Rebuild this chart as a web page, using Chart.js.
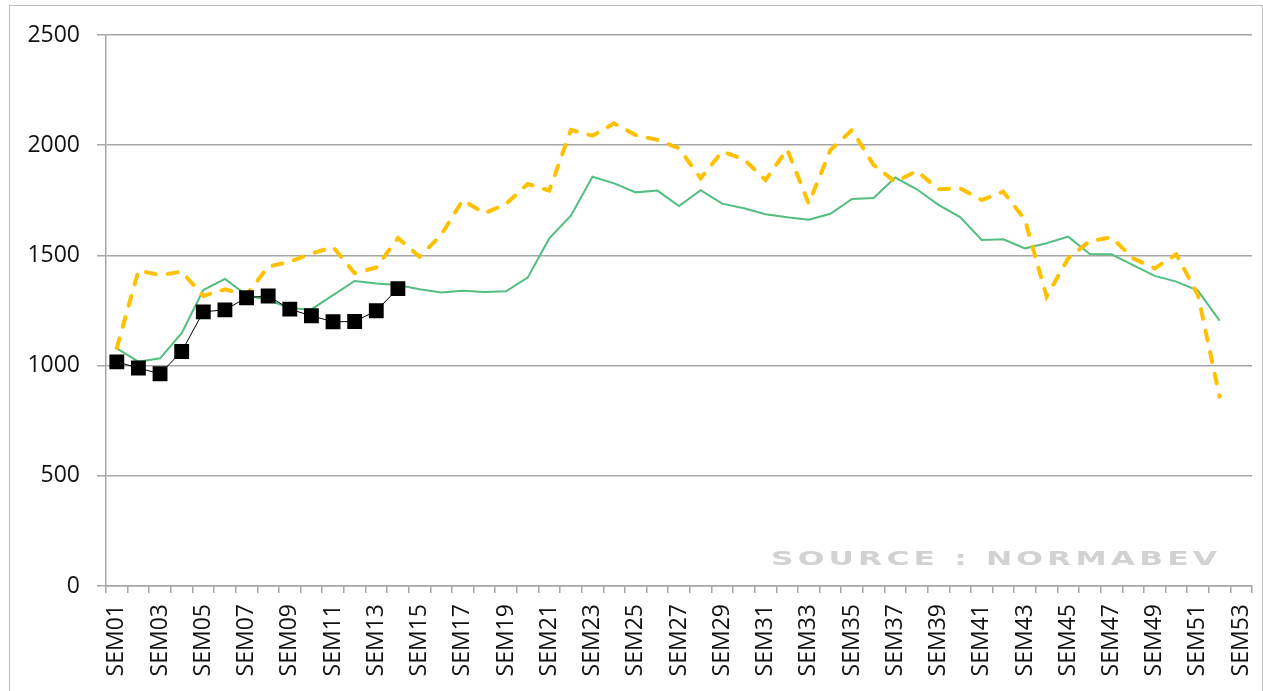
<!DOCTYPE html>
<html>
<head>
<meta charset="utf-8">
<script src="https://cdn.jsdelivr.net/npm/chart.js@4/dist/chart.umd.min.js"></script>
<style>
  html, body { margin: 0; padding: 0; background: #ffffff; }
  #wrap { position: relative; width: 1263px; height: 691px; overflow: hidden; }
  #frame { position: absolute; left: 9px; top: 5px; width: 1252px; height: 700px; border: 1.5px solid #bdbdbd; pointer-events: none; }
</style>
</head>
<body>
<div id="wrap">
  <canvas id="c" width="1263" height="691"></canvas>
  <div id="frame"></div>
</div>
<script>
const weeks = ['SEM01','SEM02','SEM03','SEM04','SEM05','SEM06','SEM07','SEM08','SEM09','SEM10',
  'SEM11','SEM12','SEM13','SEM14','SEM15','SEM16','SEM17','SEM18','SEM19','SEM20',
  'SEM21','SEM22','SEM23','SEM24','SEM25','SEM26','SEM27','SEM28','SEM29','SEM30',
  'SEM31','SEM32','SEM33','SEM34','SEM35','SEM36','SEM37','SEM38','SEM39','SEM40',
  'SEM41','SEM42','SEM43','SEM44','SEM45','SEM46','SEM47','SEM48','SEM49','SEM50',
  'SEM51','SEM52','SEM53'];

const blackSeries = [1017, 989, 963, 1064, 1244, 1253, 1308, 1316, 1256, 1226,
  1199, 1200, 1249, 1349];

const greenSeries = [1078, 1018, 1033, 1147, 1343, 1393, 1320, 1298, 1260, 1255,
  1320, 1384, 1373, 1366, 1346, 1332, 1340, 1334, 1337, 1399,
  1577, 1680, 1857, 1827, 1786, 1794, 1724, 1796, 1735, 1714,
  1687, 1673, 1662, 1689, 1756, 1760, 1853, 1800, 1729, 1674,
  1570, 1573, 1532, 1555, 1585, 1506, 1505, 1456, 1407, 1381,
  1340, 1204, null];

const orangeSeries = [1080, 1431, 1411, 1426, 1316, 1346, 1320, 1449, 1471, 1508,
  1538, 1419, 1445, 1579, 1494, 1593, 1751, 1691, 1733, 1824,
  1794, 2069, 2043, 2099, 2046, 2024, 1986, 1850, 1971, 1936,
  1842, 1981, 1735, 1978, 2069, 1910, 1834, 1883, 1800, 1804,
  1751, 1789, 1661, 1313, 1487, 1565, 1582, 1487, 1441, 1505,
  1320, 859, null];

const yTicks = [0, 500, 1000, 1500, 2000, 2500];
const sourceText = 'SOURCE : NORMABEV';

const gridGray = '#a6a6a6';
const tickFont = { family: '"Open Sans", "Liberation Sans", sans-serif', size: 23 };

const watermark = {
  id: 'watermark',
  afterDatasetsDraw(chart) {
    const ctx = chart.ctx;
    ctx.save();
    ctx.font = 'bold 19px "DejaVu Sans", "Liberation Sans", sans-serif';
    ctx.fillStyle = '#d2d2d2';
    ctx.textBaseline = 'alphabetic';
    ctx.textAlign = 'left';
    const chars = sourceText.split('');
    const stretch = 1.65;
    const target = 446;
    const widths = chars.map(ch => ctx.measureText(ch).width * stretch);
    const total = widths.reduce((a, b) => a + b, 0);
    const gap = Math.max(0, (target - total) / (chars.length - 1));
    let x = 771;
    chars.forEach((ch, i) => {
      ctx.save();
      ctx.translate(x, 565);
      ctx.scale(stretch, 1);
      ctx.fillText(ch, 0, 0);
      ctx.restore();
      x += widths[i] + gap;
    });
    ctx.restore();
  }
};

new Chart(document.getElementById('c'), {
  type: 'line',
  data: {
    labels: weeks,
    datasets: [
      {
        label: 'black',
        data: blackSeries,
        borderColor: '#000000',
        borderWidth: 1,
        backgroundColor: '#000000',
        pointStyle: 'rect',
        pointRadius: 10.5,
        pointBackgroundColor: '#000000',
        pointBorderColor: '#000000',
        pointBorderWidth: 0,
        tension: 0,
        spanGaps: false
      },
      {
        label: 'orange',
        data: orangeSeries,
        borderColor: '#FFC000',
        borderWidth: 4,
        borderDash: [10, 12],
        borderCapStyle: 'round',
        pointRadius: 0,
        tension: 0,
        fill: false
      },
      {
        label: 'green',
        data: greenSeries,
        borderColor: '#52BE80',
        borderWidth: 2,
        pointRadius: 0,
        tension: 0,
        fill: false
      }
    ]
  },
  options: {
    responsive: false,
    animation: false,
    events: [],
    layout: { padding: { left: 0, right: 11, top: 35, bottom: 0 } },
    plugins: {
      legend: { display: false },
      title: { display: false },
      tooltip: { enabled: false }
    },
    scales: {
      x: {
        type: 'category',
        offset: true,
        grid: {
          offset: true,
          drawOnChartArea: false,
          drawTicks: true,
          tickLength: 7,
          color: gridGray,
          lineWidth: 1.5
        },
        border: { display: true, color: gridGray, width: 1.5 },
        ticks: {
          autoSkip: false,
          maxRotation: 90,
          minRotation: 90,
          padding: 11,
          color: '#111111',
          font: tickFont,
          callback: function (value, index) {
            return index % 2 === 0 ? weeks[index] : '';
          }
        },
        afterFit(scale) {
          scale.height = 105;
          scale.paddingLeft = 0;
          scale.paddingRight = 0;
        }
      },
      y: {
        min: 0,
        max: 2500,
        afterBuildTicks(scale) { scale.ticks = yTicks.map(v => ({ value: v })); },
        grid: {
          drawOnChartArea: true,
          drawTicks: true,
          tickLength: 9,
          color: gridGray,
          lineWidth: 1.5
        },
        border: { display: true, color: gridGray, width: 1.5 },
        ticks: {
          padding: 17,
          color: '#111111',
          font: tickFont,
          callback: function (value) { return String(value); }
        },
        afterFit(scale) { scale.width = 106; }
      }
    }
  },
  plugins: [watermark]
});
</script>
</body>
</html>
